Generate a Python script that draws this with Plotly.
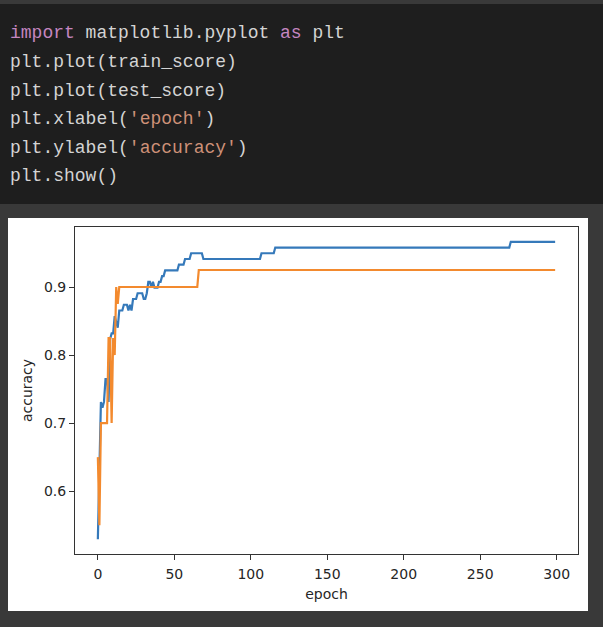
import plotly.graph_objects as go

# ---------------- data ----------------
train_early = [0.5294, 0.6303, 0.7311, 0.7227, 0.7311, 0.7647, 0.7647, 0.7311,
               0.8235, 0.8319, 0.8319, 0.8571, 0.8487, 0.8403, 0.8655, 0.8655,
               0.8655, 0.8739, 0.8739, 0.8739, 0.8655, 0.8739, 0.8655, 0.8824,
               0.8824, 0.8824, 0.8908, 0.8908, 0.8908, 0.8908, 0.8824, 0.8824,
               0.8908, 0.9076, 0.9076, 0.8992, 0.9076, 0.8992, 0.8992, 0.8992,
               0.9076, 0.9076, 0.9160, 0.9160]
train_plateaus = [(0.9244, 9), (0.9328, 4), (0.9412, 4), (0.9496, 8),
                  (0.9412, 38), (0.9496, 9), (0.9580, 154), (0.9664, 30)]

test_early = [0.65, 0.55, 0.70, 0.70, 0.70, 0.70, 0.70, 0.825, 0.825, 0.70,
              0.825, 0.80, 0.90, 0.875, 0.90]
test_plateaus = [(0.90, 51), (0.925, 234)]

train_score = list(train_early)
for v, n in train_plateaus:
    train_score += [v] * n
test_score = list(test_early)
for v, n in test_plateaus:
    test_score += [v] * n

epochs = list(range(len(train_score)))

x_ticks = [0, 50, 100, 150, 200, 250, 300]
y_ticks = [0.6, 0.7, 0.8, 0.9]
y_tick_text = ["0.6", "0.7", "0.8", "0.9"]

code_lines = [
    '<span style="color:#c586c0">import</span> matplotlib.pyplot <span style="color:#c586c0">as</span> plt',
    'plt.plot(train_score)',
    'plt.plot(test_score)',
    "plt.xlabel(<span style=\"color:#ce9178\">'epoch'</span>)",
    "plt.ylabel(<span style=\"color:#ce9178\">'accuracy'</span>)",
    'plt.show()',
]

# ---------------- layout helpers ----------------
W_PAGE, H_PAGE = 603, 627
L, R, T, B = 75, 578, 227, 554
PW, PH = R - L, B - T


def px2x(px):
    return (px - L) / PW


def py2y(py):
    return (B - py) / PH


fig = go.Figure()
fig.add_trace(go.Scatter(x=epochs, y=train_score, mode="lines",
                         line=dict(color="#3579ba", width=2.2),
                         name="train_score", showlegend=False))
fig.add_trace(go.Scatter(x=epochs, y=test_score, mode="lines",
                         line=dict(color="#f38a2e", width=2.2),
                         name="test_score", showlegend=False))

shapes = [
    dict(type="rect", xref="paper", yref="paper",
         x0=px2x(0), x1=px2x(W_PAGE), y0=py2y(204), y1=py2y(4),
         fillcolor="#1e1e1e", line=dict(width=0), layer="below"),
    dict(type="rect", xref="paper", yref="paper",
         x0=px2x(8), x1=px2x(588), y0=py2y(611), y1=py2y(218),
         fillcolor="white", line=dict(width=0), layer="below"),
]

line_centers = [33, 62, 91, 119.5, 147.5, 176]
annotations = []
for txt, cy in zip(code_lines, line_centers):
    annotations.append(dict(
        text=txt, xref="paper", yref="paper", x=px2x(9), y=py2y(cy),
        xanchor="left", yanchor="middle", showarrow=False, borderpad=0,
        font=dict(family="Liberation Mono", size=18, color="#d4d4d4")))

axis_common = dict(showline=True, linecolor="#333333", linewidth=1, mirror=True,
                   ticks="outside", ticklen=5, tickwidth=1, tickcolor="#333333",
                   showgrid=False, zeroline=False,
                   tickfont=dict(family="DejaVu Sans", size=14, color="#262626"))

fig.update_layout(
    width=W_PAGE, height=H_PAGE,
    margin=dict(l=L, r=W_PAGE - R, t=T, b=H_PAGE - B, pad=0),
    paper_bgcolor="#393939", plot_bgcolor="white",
    shapes=shapes, annotations=annotations,
    xaxis=dict(range=[-14.95, 313.95], tickvals=x_ticks, ticklabelstandoff=2,
               title=dict(text="epoch", standoff=8,
                          font=dict(family="DejaVu Sans", size=14, color="#262626")),
               **axis_common),
    yaxis=dict(range=[0.5076, 0.9882], tickvals=y_ticks, ticktext=y_tick_text,
               title=dict(text="accuracy", standoff=8,
                          font=dict(family="DejaVu Sans", size=14, color="#262626")),
               **axis_common),
)

fig.write_html("out.html")
